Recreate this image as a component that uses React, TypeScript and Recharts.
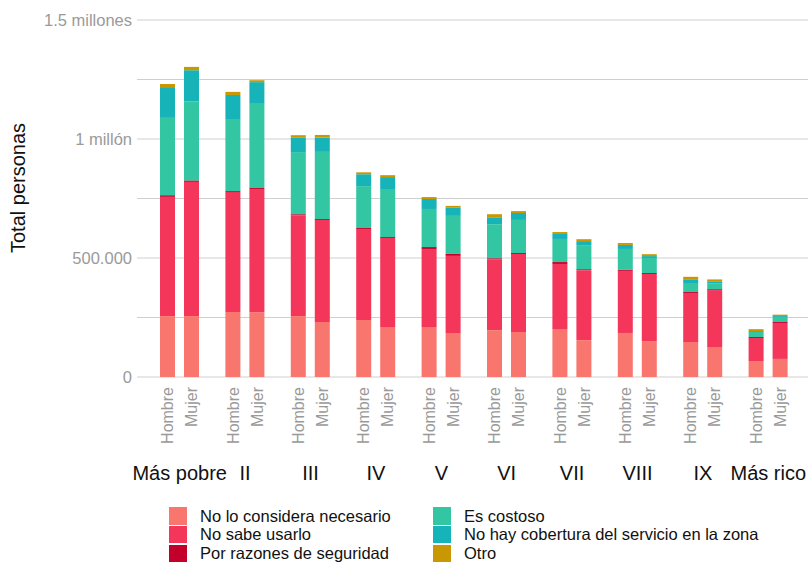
import { BarChart, Bar, XAxis, YAxis, CartesianGrid } from 'recharts';

const deciles = ['Más pobre', 'II', 'III', 'IV', 'V', 'VI', 'VII', 'VIII', 'IX', 'Más rico'];

const motivos = [
  'No lo considera necesario',
  'No sabe usarlo',
  'Por razones de seguridad',
  'Es costoso',
  'No hay cobertura del servicio en la zona',
  'Otro',
];
const colores = ['#F8766D', '#F3365A', '#C3002B', '#32C6A3', '#16B3B8', '#C99700'];

// Hombre
const noNecesarioH = [256000, 273000, 256000, 240000, 210000, 197000, 202000, 185000, 147000, 67000];
const noSabeH = [501000, 504000, 424000, 382000, 328000, 298000, 273000, 261000, 206000, 97000];
const seguridadH = [7000, 4000, 4000, 4000, 8000, 4000, 8000, 4000, 4000, 4000];
const costosoH = [328000, 303000, 261000, 176000, 160000, 143000, 97000, 88000, 38000, 21000];
const coberturaH = [126000, 101000, 60000, 50000, 42000, 29000, 21000, 17000, 13000, 4000];
const otroH = [13000, 13000, 11000, 8000, 8000, 13000, 8000, 8000, 13000, 8000];

// Mujer
const noNecesarioM = [256000, 272000, 231000, 210000, 185000, 189000, 155000, 151000, 126000, 76000];
const noSabeM = [564000, 518000, 429000, 374000, 324000, 328000, 294000, 282000, 239000, 151000];
const seguridadM = [6000, 4000, 4000, 4000, 8000, 4000, 4000, 4000, 4000, 4000];
const costosoM = [333000, 357000, 282000, 202000, 160000, 139000, 101000, 63000, 25000, 21000];
const coberturaM = [130000, 88000, 60000, 50000, 34000, 29000, 17000, 8000, 8000, 4000];
const otroM = [14000, 8000, 11000, 8000, 8000, 8000, 8000, 8000, 8000, 6000];

const yTicks = [0, 250000, 500000, 750000, 1000000, 1250000, 1500000];
const yLabels: Record<number, string> = { 0: '0', 500000: '500.000', 1000000: '1 millón', 1500000: '1.5 millones' };

const seriesH = [noNecesarioH, noSabeH, seguridadH, costosoH, coberturaH, otroH];
const seriesM = [noNecesarioM, noSabeM, seguridadM, costosoM, coberturaM, otroM];

const data = deciles.map((d, i) => {
  const row: Record<string, string | number> = { decil: d };
  seriesH.forEach((s, k) => { row['h' + k] = s[i]; });
  seriesM.forEach((s, k) => { row['m' + k] = s[i]; });
  return row;
});

const FONT = '"Liberation Sans", Arial, Helvetica, sans-serif';

function DecilTick(props: any) {
  const { x, y, payload } = props;
  const lab = (cx: number, t: string) => (
    <text x={cx + 5.5} y={y + 10} textAnchor="end" fontSize={16} fill="#9a9a9a"
      fontFamily={FONT} transform={`rotate(-90, ${cx + 5.5}, ${y + 10})`}>{t}</text>
  );
  return (
    <g>
      {lab(x - 12, 'Hombre')}
      {lab(x + 12, 'Mujer')}
      <text x={x} y={y + 103} textAnchor="middle" fontSize={20} fill="#111" fontFamily={FONT}>
        {payload.value}
      </text>
    </g>
  );
}

export default function App() {
  return (
    <div style={{ position: 'absolute', left: 0, top: 0, width: 808, height: 562, background: '#fff', fontFamily: FONT }}>
      <BarChart width={808} height={562} data={data} barSize={15} barGap={9}
        margin={{ top: 20, right: 0, bottom: 0, left: 0 }}>
        <CartesianGrid vertical={false} stroke="#cfcfcf" />
        <XAxis dataKey="decil" height={185} axisLine={false} tickLine={false} tickSize={0} tickMargin={0}
          padding={{ left: 10, right: 7 }} interval={0} tick={<DecilTick />} />
        <YAxis width={137} domain={[0, 1500000]} ticks={yTicks} axisLine={false} tickLine={false}
          tickSize={5} tickMargin={0} interval={0}
          tick={{ fill: '#9a9a9a', fontSize: 16.5, fontFamily: FONT }}
          tickFormatter={(v: number) => yLabels[v] ?? ''} />
        {motivos.map((m, k) => (
          <Bar key={'h' + k} dataKey={'h' + k} name={m} stackId="h" fill={colores[k]} isAnimationActive={false} />
        ))}
        {motivos.map((m, k) => (
          <Bar key={'m' + k} dataKey={'m' + k} name={m} stackId="m" fill={colores[k]} isAnimationActive={false} />
        ))}
      </BarChart>
      <div style={{ position: 'absolute', left: 17.5, top: 188, transform: 'translate(-50%, -50%) rotate(-90deg)',
        fontSize: 20, color: '#111', whiteSpace: 'nowrap' }}>Total personas</div>
      {motivos.map((m, k) => {
        const col = Math.floor(k / 3);
        const row = k % 3;
        return (
          <div key={m} style={{ position: 'absolute', left: col === 0 ? 169 : 433, top: 507 + row * 18.7,
            height: 18, display: 'flex', alignItems: 'center', whiteSpace: 'nowrap' }}>
            <div style={{ width: 18, height: 17.5, background: colores[k] }} />
            <span style={{ marginLeft: 13, fontSize: 16.5, color: '#111' }}>{m}</span>
          </div>
        );
      })}
    </div>
  );
}
